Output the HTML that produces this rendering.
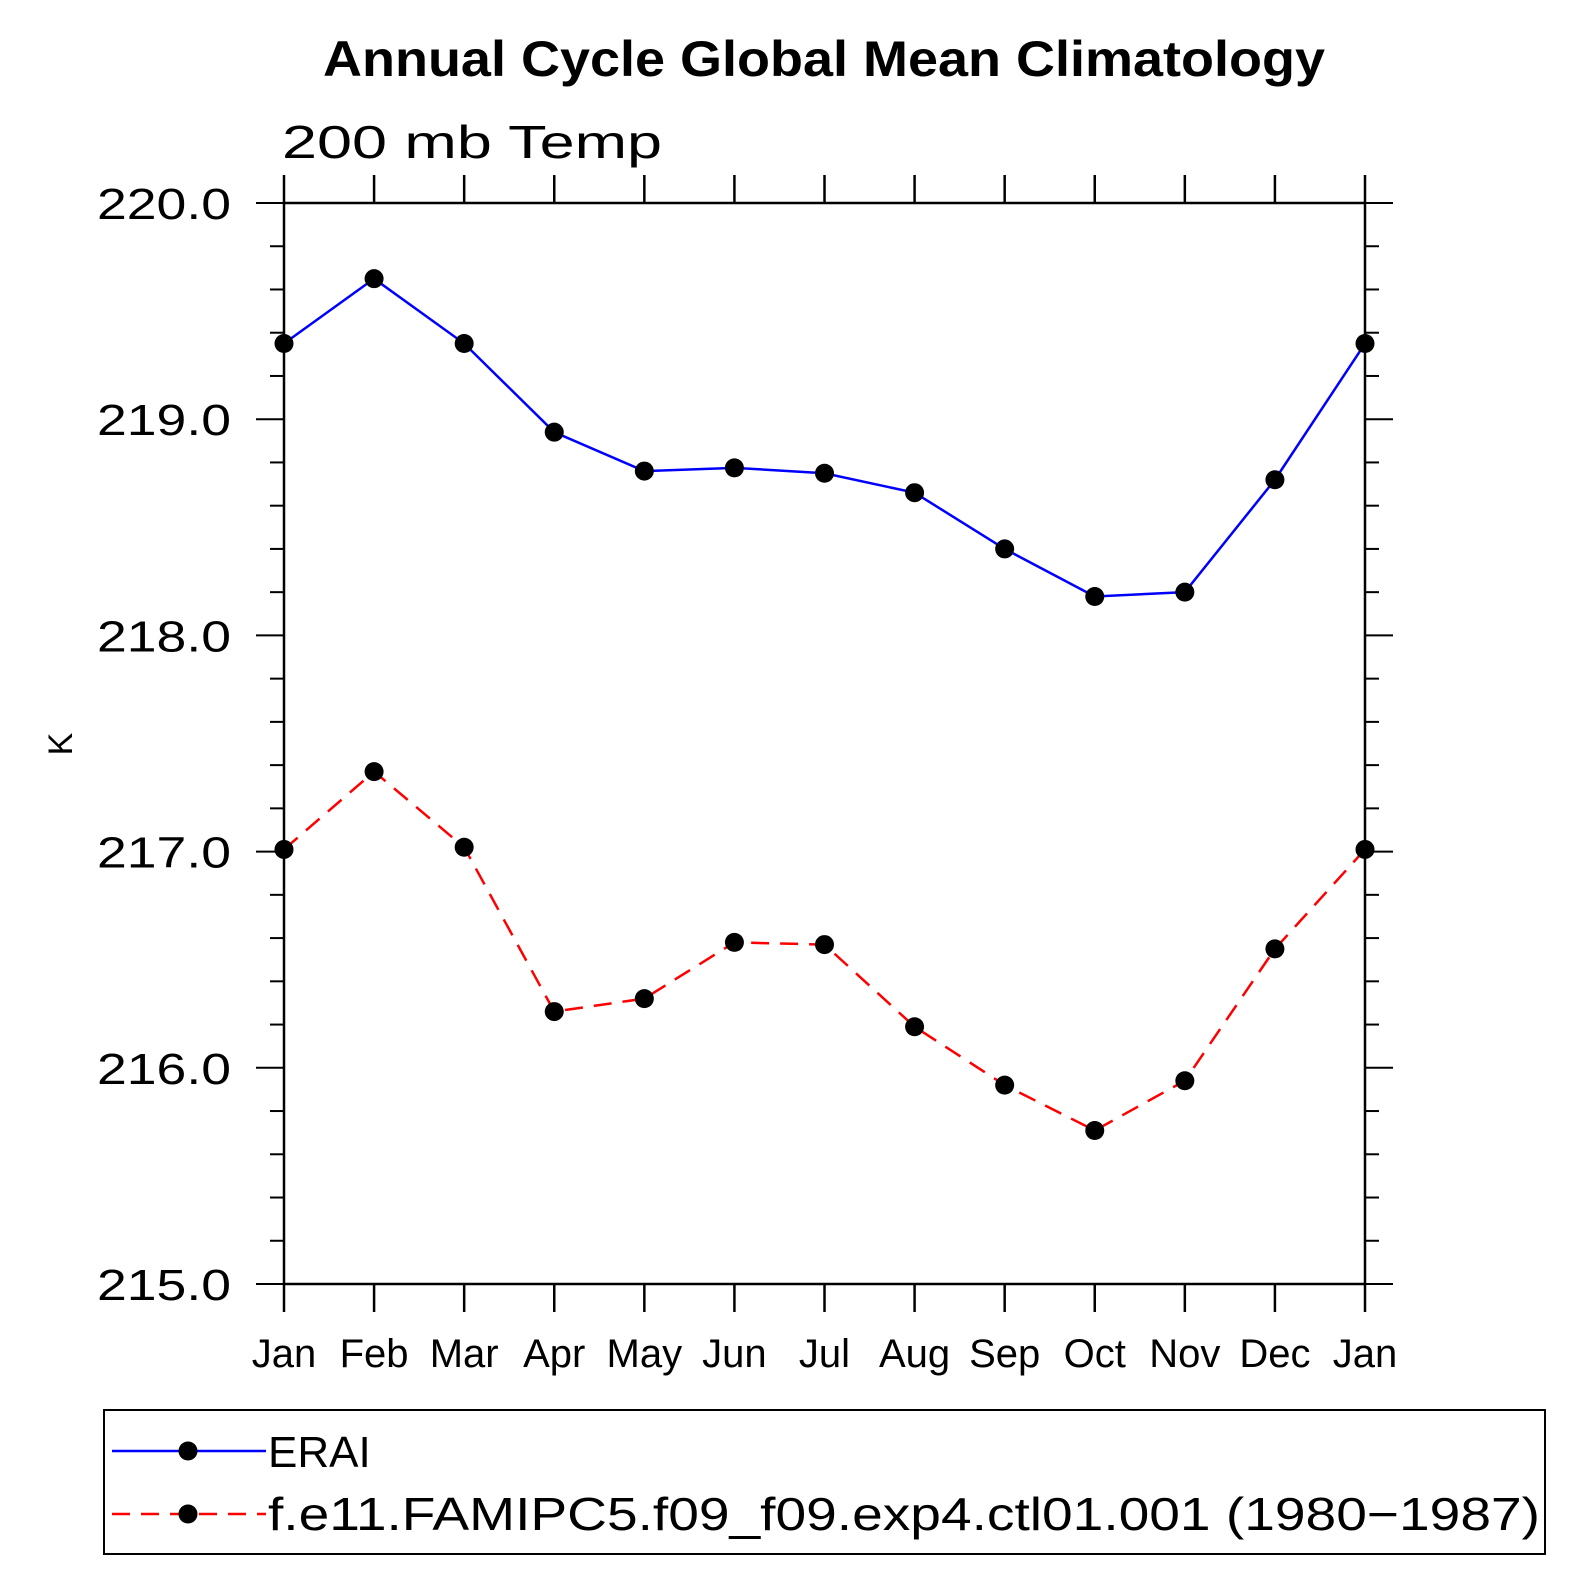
<!DOCTYPE html>
<html><head><meta charset="utf-8"><style>html,body{margin:0;padding:0;background:#fff}svg{display:block}</style></head>
<body>
<svg id="chart" width="1591" height="1591" viewBox="0 0 1591 1591" xmlns="http://www.w3.org/2000/svg" font-family="Liberation Sans, sans-serif">
<text x="824" y="76" text-anchor="middle" font-size="50" font-weight="bold" textLength="1002" lengthAdjust="spacingAndGlyphs">Annual Cycle Global Mean Climatology</text>
<text x="282" y="158" font-size="46" textLength="380" lengthAdjust="spacingAndGlyphs">200 mb Temp</text>
<text transform="translate(72,744) rotate(-90)" text-anchor="middle" font-size="34">K</text>
<g id="axes"></g>
<g id="series"></g>
<g>
<rect x="104" y="1410" width="1441" height="144" fill="none" stroke="#000" stroke-width="2"/>
<g>
<line x1="112" y1="1451" x2="266" y2="1451" stroke="#0000ff" stroke-width="2.5"/>
<circle cx="188" cy="1451" r="9.5" fill="#000"/>
<text x="268" y="1467" font-size="44">ERAI</text></g>
<g>
<line x1="112" y1="1514" x2="266" y2="1514" stroke="#ff0000" stroke-width="2.5" stroke-dasharray="18,11"/>
<circle cx="188" cy="1514" r="9.5" fill="#000"/>
<text x="268" y="1530" font-size="46" textLength="1272" lengthAdjust="spacingAndGlyphs">f.e11.FAMIPC5.f09_f09.exp4.ctl01.001 (1980−1987)</text></g>
</g>
</svg>
<script>
const months = ["Jan","Feb","Mar","Apr","May","Jun","Jul","Aug","Sep","Oct","Nov","Dec","Jan"];
const eraiValues = [219.35,219.65,219.35,218.94,218.76,218.775,218.75,218.66,218.40,218.18,218.20,218.72,219.35];
const modelValues = [217.01,217.37,217.02,216.26,216.32,216.58,216.57,216.19,215.92,215.71,215.94,216.55,217.01];
const yTickLabels = ["215.0","216.0","217.0","218.0","219.0","220.0"];
const NS="http://www.w3.org/2000/svg";
const L=284,R=1365,T=203,B=1284,yMin=215,yMax=220;
const xS=i=>L+(R-L)*i/(months.length-1);
const yS=v=>B-(B-T)*(v-yMin)/(yMax-yMin);
function mk(tag,attrs,parent){const e=document.createElementNS(NS,tag);for(const k in attrs)e.setAttribute(k,attrs[k]);parent.appendChild(e);return e;}
const ax=document.getElementById('axes');
const frame=mk('rect',{x:L,y:T,width:R-L,height:B-T,fill:'none',stroke:'#000','stroke-width':2.5},ax);


months.forEach((m,i)=>{
  const x=xS(i);
  const t1=mk('line',{x1:x,x2:x,y1:B,y2:B+28,stroke:'#000','stroke-width':2.5},ax);
  
  
  const t2=mk('line',{x1:x,x2:x,y1:T,y2:T-28,stroke:'#000','stroke-width':2.5},ax);
  
  
  const tx=mk('text',{x:x,y:1367,'text-anchor':'middle','font-size':40},ax);
  tx.textContent=m;
  
  
});
for(let k=0;k<=25;k++){
  const v=yMin+k*0.2, y=yS(v), major=k%5===0, len=major?28:14;
  const a=mk('line',{x1:L,x2:L-len,y1:y,y2:y,stroke:'#000','stroke-width':2},ax);
  
  
  const b=mk('line',{x1:R,x2:R+len,y1:y,y2:y,stroke:'#000','stroke-width':2},ax);
  
  
}
yTickLabels.forEach(s=>{
  const t=mk('text',{x:97,y:yS(parseFloat(s))+16,'font-size':44,textLength:134,lengthAdjust:'spacingAndGlyphs'},ax);
  t.textContent=s;
  
  
});
const sg=document.getElementById('series');
function drawSeries(vals,color,dash,name){
  const p=mk('polyline',{points:vals.map((v,i)=>xS(i)+','+yS(v)).join(' '),fill:'none',stroke:color,'stroke-width':2.5,'stroke-dasharray':dash},sg);
  
  
  vals.forEach((v,i)=>{
    const c=mk('circle',{cx:xS(i),cy:yS(v),r:9.5,fill:'#000'},sg);
    
    
  });
}
drawSeries(eraiValues,'#0000ff','none','erai');
drawSeries(modelValues,'#ff0000','18,11','model');
</script>
</body></html>
